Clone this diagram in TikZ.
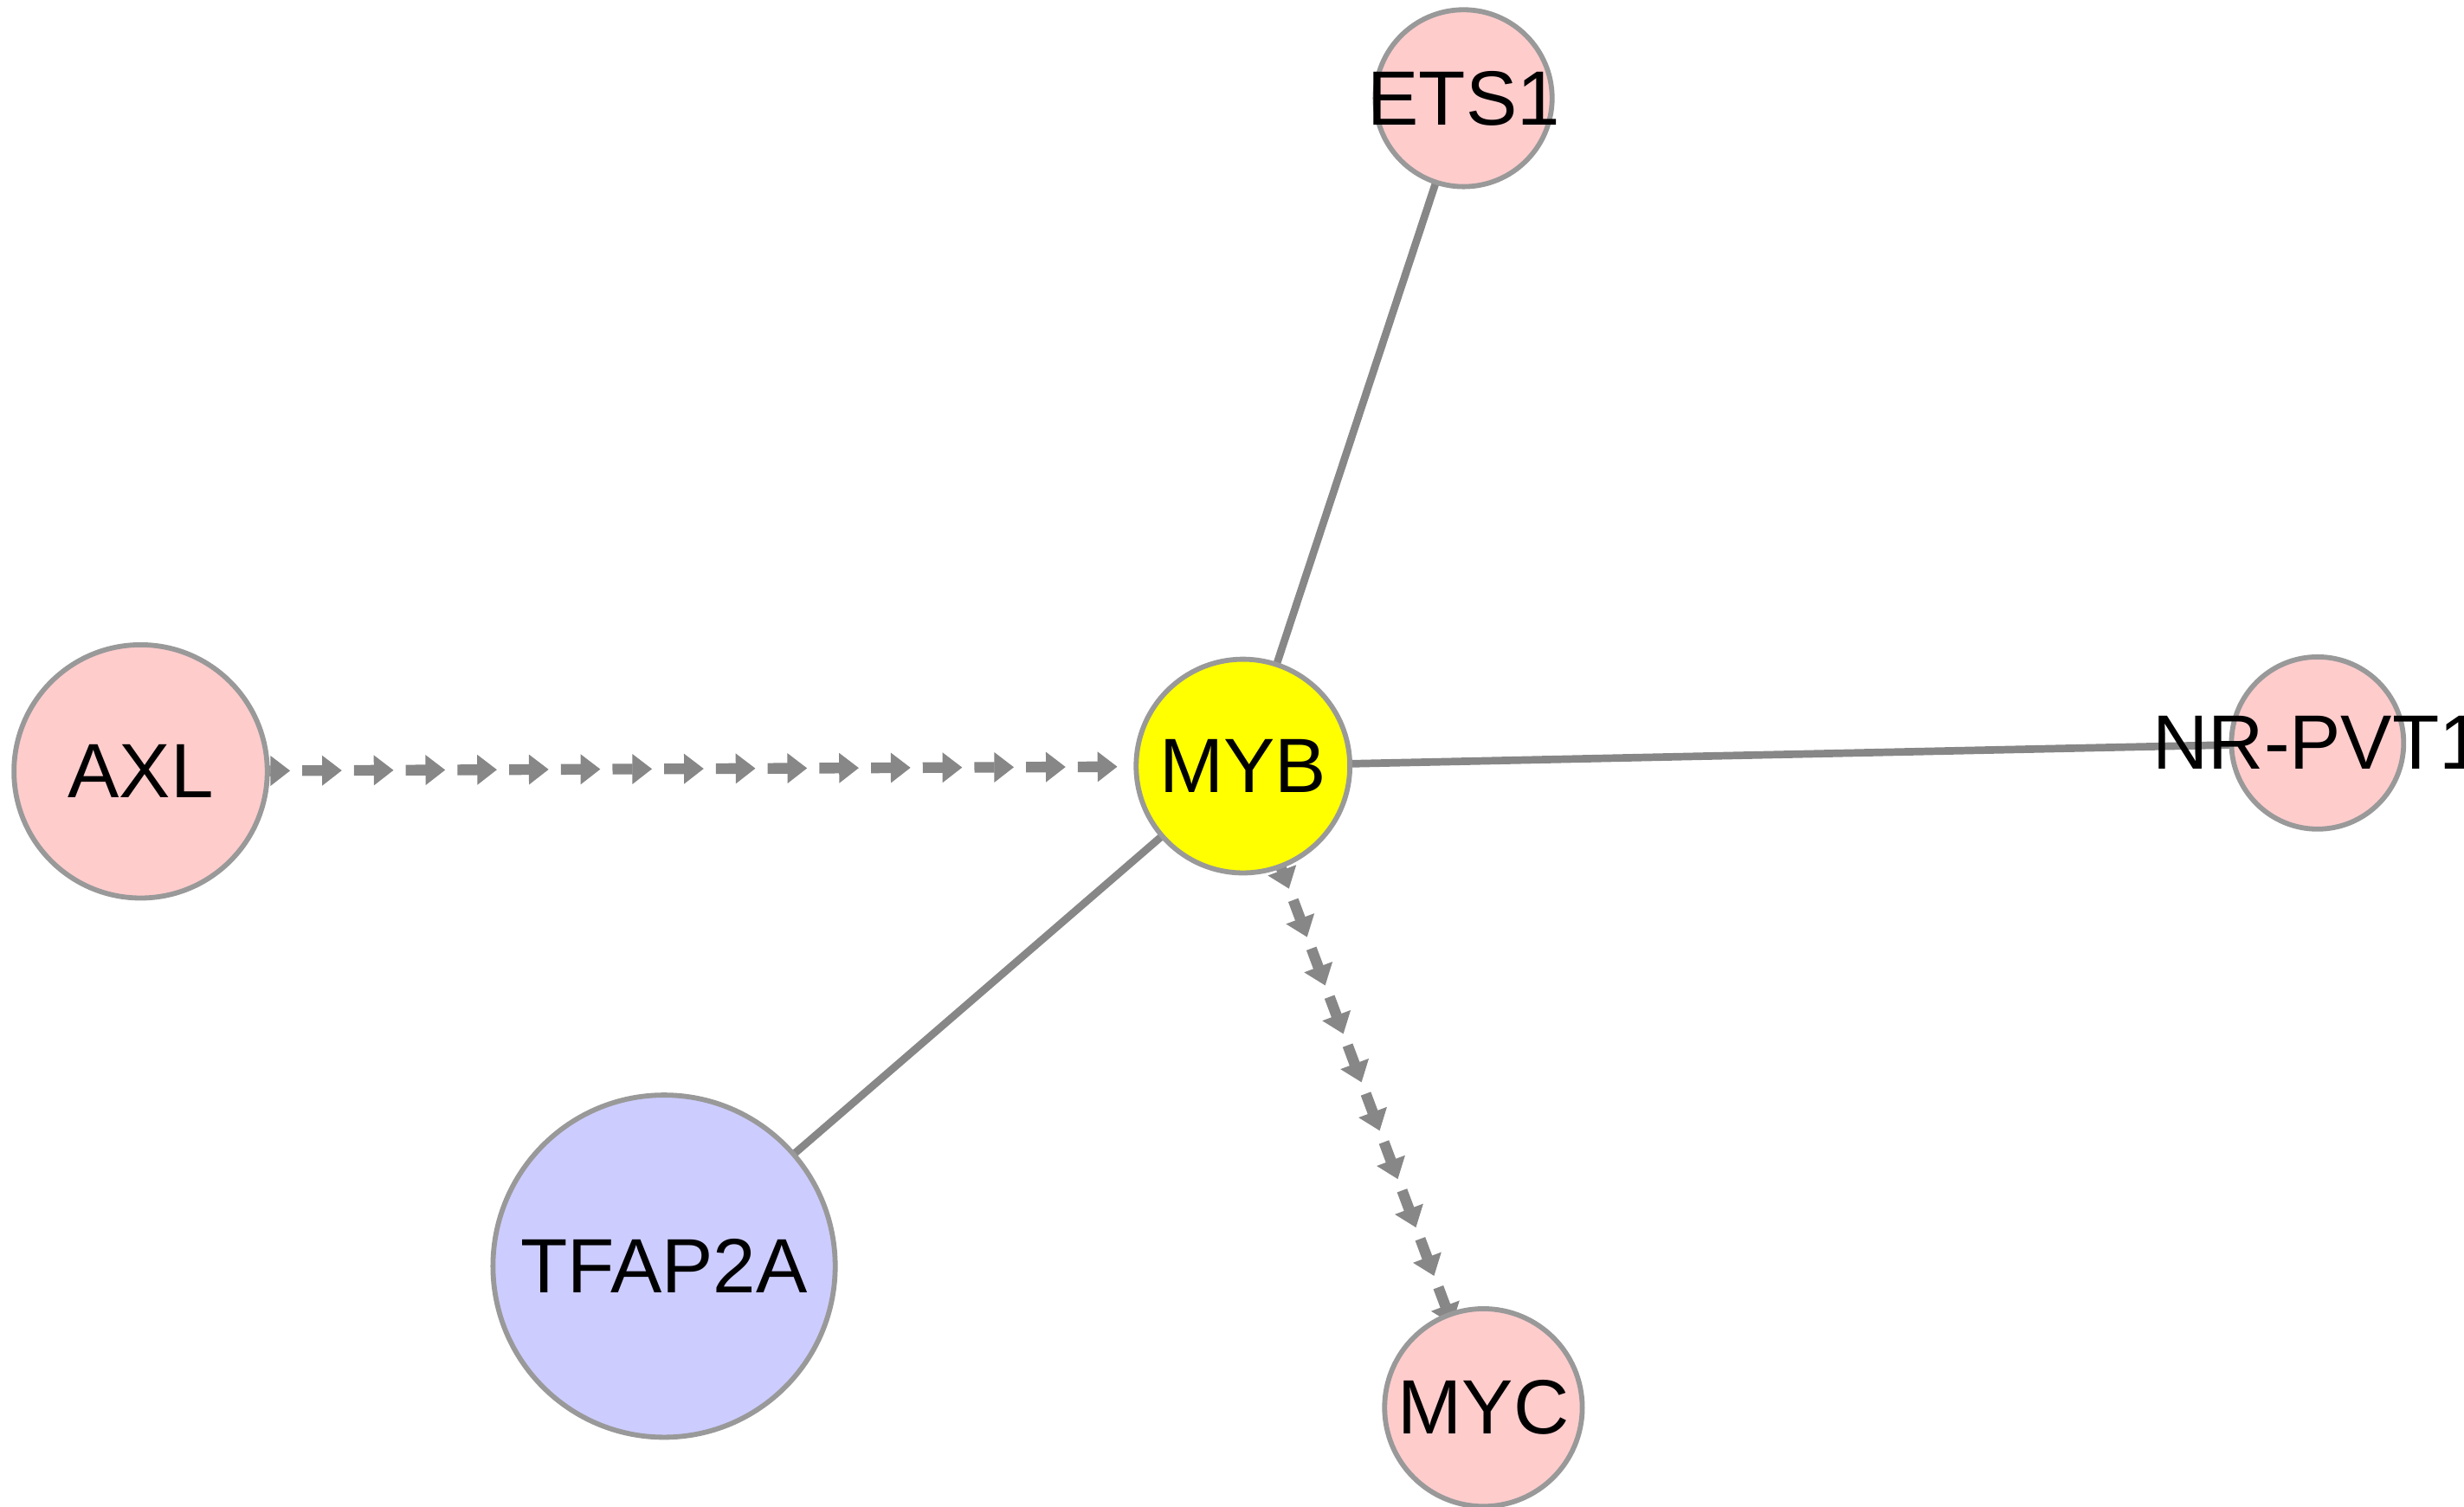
\documentclass[tikz,border=0pt]{standalone}
\usepackage{fontspec}
\setmainfont{Liberation Sans}
\usetikzlibrary{decorations.markings,backgrounds}
\definecolor{edgegray}{HTML}{878787}
\definecolor{bordergray}{HTML}{999999}
\definecolor{pinkfill}{HTML}{FFCCCC}
\definecolor{yellowfill}{HTML}{FFFF00}
\definecolor{lavfill}{HTML}{CCCCFF}
\newcommand{\genelabel}[1]{\makebox[0pt]{#1}}
\tikzset{
  gene/.style={circle, draw=bordergray, line width=1.6pt, inner sep=0pt,
    font=\fontsize{24.5}{24.5}\selectfont, text=black},
  pinkgene/.style={gene, fill=pinkfill},
  solidedge/.style={draw=edgegray, line width=2.4pt},
  arrowtrain/.style 2 args={decorate, decoration={markings,
    mark=between positions #1 and #2 step 16.45pt with {
      \fill[edgegray] (0pt,-1.7pt) rectangle (6.4pt,1.7pt);
      \fill[edgegray] (6.3pt,-4.825pt) -- (12.55pt,0pt) -- (6.3pt,4.825pt) -- cycle;}}}
}
\begin{document}
\begin{tikzpicture}[x=0.5pt,y=-0.5pt]
\useasboundingbox (0,0) rectangle (1568,959);
% nodes
\node[gene, fill=yellowfill, minimum size=68pt] (MYB) at (791,487.6) {\genelabel{MYB}};
\node[pinkgene, minimum size=56.3pt] (ETS1) at (931.4,62.5) {\genelabel{ETS1}};
\node[pinkgene, minimum size=80.6pt] (AXL) at (89.5,491) {\genelabel{AXL}};
\node[pinkgene, minimum size=54.8pt] (NRPVT1) at (1474.8,472.9) {\genelabel{NR-PVT1}};
\node[gene, fill=lavfill, minimum size=108.9pt] (TFAP2A) at (422.6,805.9) {\genelabel{TFAP2A}};
\node[pinkgene, minimum size=62.9pt] (MYC) at (944,895.9) {\genelabel{MYC}};
% edges
\begin{scope}[on background layer]
\draw[solidedge] (MYB.center) -- (ETS1.center);
\draw[solidedge] (MYB.center) -- (NRPVT1.center);
\draw[solidedge] (MYB.center) -- (TFAP2A.center);
\path[arrowtrain={35pt}{300pt}] (AXL.center) -- (MYB.center);
\path[arrowtrain={29.1pt}{178pt}] (MYB.center) -- (MYC.center);
\end{scope}
\end{tikzpicture}
\end{document}
